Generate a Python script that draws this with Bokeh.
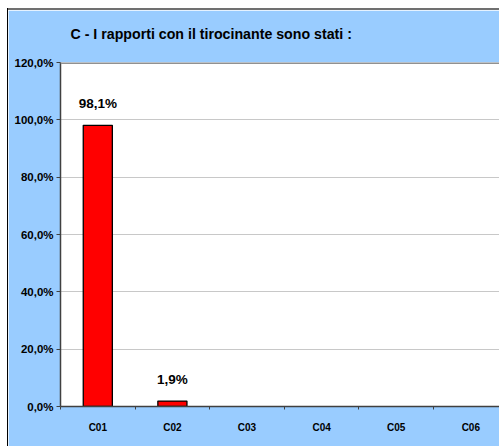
from bokeh.plotting import figure
from bokeh.models import FixedTicker, ColumnDataSource, Range1d, Spacer, Span, Title
from bokeh.layouts import row, column
from bokeh.core.properties import value
from bokeh.embed import file_html
from bokeh.resources import INLINE

categories = ["C01", "C02", "C03", "C04", "C05", "C06"]
values = [98.1, 1.9, 0.0, 0.0, 0.0, 0.0]
bar_labels = ["98,1%", "1,9%", "", "", "", ""]
y_ticks = [0, 20, 40, 60, 80, 100, 120]
y_tick_labels = ["0,0%", "20,0%", "40,0%", "60,0%", "80,0%", "100,0%", "120,0%"]
title_text = "C - I rapporti con il tirocinante sono stati :"

FONT = "Liberation Sans"
BLUE = "#99CCFF"

xs = [i + 0.5 for i in range(len(categories))]
outline = ["#000000" if v > 0 else None for v in values]
src = ColumnDataSource(dict(x=xs, top=values, label=bar_labels, lc=outline))

p = figure(width=491, height=436, output_backend="svg", toolbar_location=None,
           x_range=Range1d(0, 439 / 74.6), y_range=Range1d(0, 120),
           min_border_left=52, min_border_right=0, min_border_bottom=40,
           min_border_top=52)

p.background_fill_color = "white"
p.border_fill_color = BLUE
p.outline_line_color = None

# an invisible spacer title sits between the frame and the real title
p.add_layout(Title(text=" ", text_font=FONT, text_font_size="10px", standoff=8,
                   text_color=BLUE), "above")
p.add_layout(Title(text=title_text, text_font=FONT, text_font_size="14.2px",
                   text_font_style="bold", text_color="#000000", align="left",
                   offset=10, standoff=0), "above")

p.vbar(x="x", top="top", width=0.39, bottom=0, source=src,
       fill_color="#FF0000", line_color="lc", line_width=1.3)
p.text(x="x", y="top", text="label", source=src, text_align="center",
       text_baseline="alphabetic", y_offset=-22,
       text_font=value(FONT), text_font_size="13.5px", text_font_style="bold",
       text_color="#000000")

p.xgrid.visible = False
p.ygrid.grid_line_color = "#C8C8C8"
p.ygrid.grid_line_width = 1
p.ygrid.ticker = FixedTicker(ticks=y_ticks)

p.add_layout(Span(location=120, dimension="width", line_color="#909090", line_width=3))

xa = p.xaxis[0]
xa.ticker = FixedTicker(ticks=xs, minor_ticks=list(range(len(categories) + 1)))
xa.major_label_overrides = {x: c for x, c in zip(xs, categories)}
xa.major_tick_line_color = None
xa.minor_tick_in = 0
xa.minor_tick_out = 3
xa.minor_tick_line_color = "#404040"
xa.axis_line_color = "#404040"
xa.axis_line_width = 1.5
xa.major_label_standoff = 9
xa.major_label_text_font = FONT
xa.major_label_text_font_size = "10px"
xa.major_label_text_font_style = "bold"
xa.major_label_text_color = "#000000"

ya = p.yaxis[0]
ya.ticker = FixedTicker(ticks=y_ticks)
ya.major_label_overrides = {t: l for t, l in zip(y_ticks, y_tick_labels)}
ya.minor_tick_line_color = None
ya.major_tick_in = 0
ya.major_tick_out = 4
ya.major_tick_line_color = "#404040"
ya.axis_line_color = "#404040"
ya.axis_line_width = 1.5
ya.major_label_standoff = 3
ya.major_label_text_font = FONT
ya.major_label_text_font_size = "11.5px"
ya.major_label_text_font_style = "bold"
ya.major_label_text_color = "#000000"

top_bar = Spacer(width=491, height=10,
                 styles={"border-bottom": "2px solid #707070", "box-sizing": "border-box"})
left_gap = Spacer(width=8, height=8)
left_bar = Spacer(width=8, height=438,
                  styles={"border-right": "1px solid #000000", "box-sizing": "border-box"})
layout = row(column(left_gap, left_bar, spacing=0),
             column(top_bar, p, spacing=0), spacing=0)

open("out.html", "w").write(file_html(layout, INLINE))
